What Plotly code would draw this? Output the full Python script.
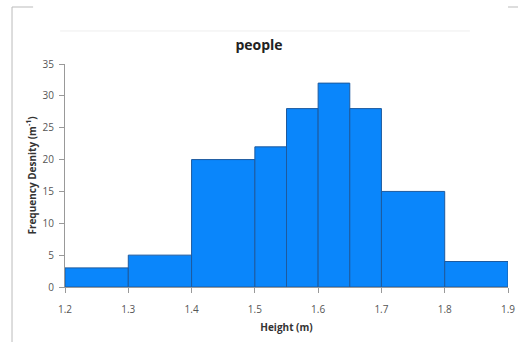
import plotly.graph_objects as go

bin_edges = [1.2, 1.3, 1.4, 1.5, 1.55, 1.6, 1.65, 1.7, 1.8, 1.9]
freq_density = [3, 5, 20, 22, 28, 32, 28, 15, 4]
x_ticks = [1.2, 1.3, 1.4, 1.5, 1.6, 1.7, 1.8, 1.9]
y_ticks = [0, 5, 10, 15, 20, 25, 30, 35]

centers = [(a + b) / 2 for a, b in zip(bin_edges[:-1], bin_edges[1:])]
widths = [b - a for a, b in zip(bin_edges[:-1], bin_edges[1:])]

fig = go.Figure(go.Bar(
    x=centers, y=freq_density, width=widths,
    marker=dict(color="#0a86fb", line=dict(color="#1d5a9e", width=1)),
))

font = "Open Sans, Liberation Sans, sans-serif"
fig.update_layout(
    width=518, height=342,
    margin=dict(l=65, r=10, t=64, b=55),
    paper_bgcolor="white", plot_bgcolor="white",
    showlegend=False,
    title=dict(text="<b>people</b>", x=0.5, xanchor="center", y=0.868, yanchor="middle",
               font=dict(family=font, size=14, color="#222")),
    font=dict(family=font, color="#555"),
    xaxis=dict(range=[1.2, 1.9], tickvals=x_ticks, ticktext=[str(v) for v in x_ticks],
               showgrid=False, zeroline=False, showline=True, linecolor="#999", linewidth=1,
               ticks="outside", ticklen=5, tickcolor="#999", tickfont=dict(size=10, color="#555"),
               ticklabelstandoff=8, automargin=False,
               title=dict(text="<b>Height (m)</b>", font=dict(size=10, color="#333"), standoff=8)),
    yaxis=dict(range=[0, 35], tickvals=y_ticks, showgrid=False, zeroline=False,
               showline=True, linecolor="#999", linewidth=1,
               ticks="outside", ticklen=5, tickcolor="#999", tickfont=dict(size=10, color="#555"),
               ticklabelstandoff=3, automargin=False,
               title=dict(text="<b>Frequency Desnity (m<sup>-1</sup>)</b>", font=dict(size=10, color="#333"), standoff=4)),
    shapes=[
        dict(type="line", xref="paper", yref="paper", x0=-0.1196, x1=-0.1196, y0=1.2556, y1=-0.25,
             line=dict(color="#bbb", width=1)),
        dict(type="line", xref="paper", yref="paper", x0=-0.1196, x1=-0.072, y0=1.2556, y1=1.2556,
             line=dict(color="#bbb", width=1)),
        dict(type="line", xref="paper", yref="paper", x0=1.0, x1=1.03, y0=1.2556, y1=1.2556,
             line=dict(color="#bbb", width=1)),
        dict(type="line", xref="paper", yref="paper", x0=-0.011, x1=0.914, y0=1.148, y1=1.148,
             line=dict(color="#eeeeee", width=1)),
    ],
)

fig.write_html("out.html", config={"displayModeBar": False},
               post_script="document.body.style.margin='0';document.body.style.overflow='hidden';")
